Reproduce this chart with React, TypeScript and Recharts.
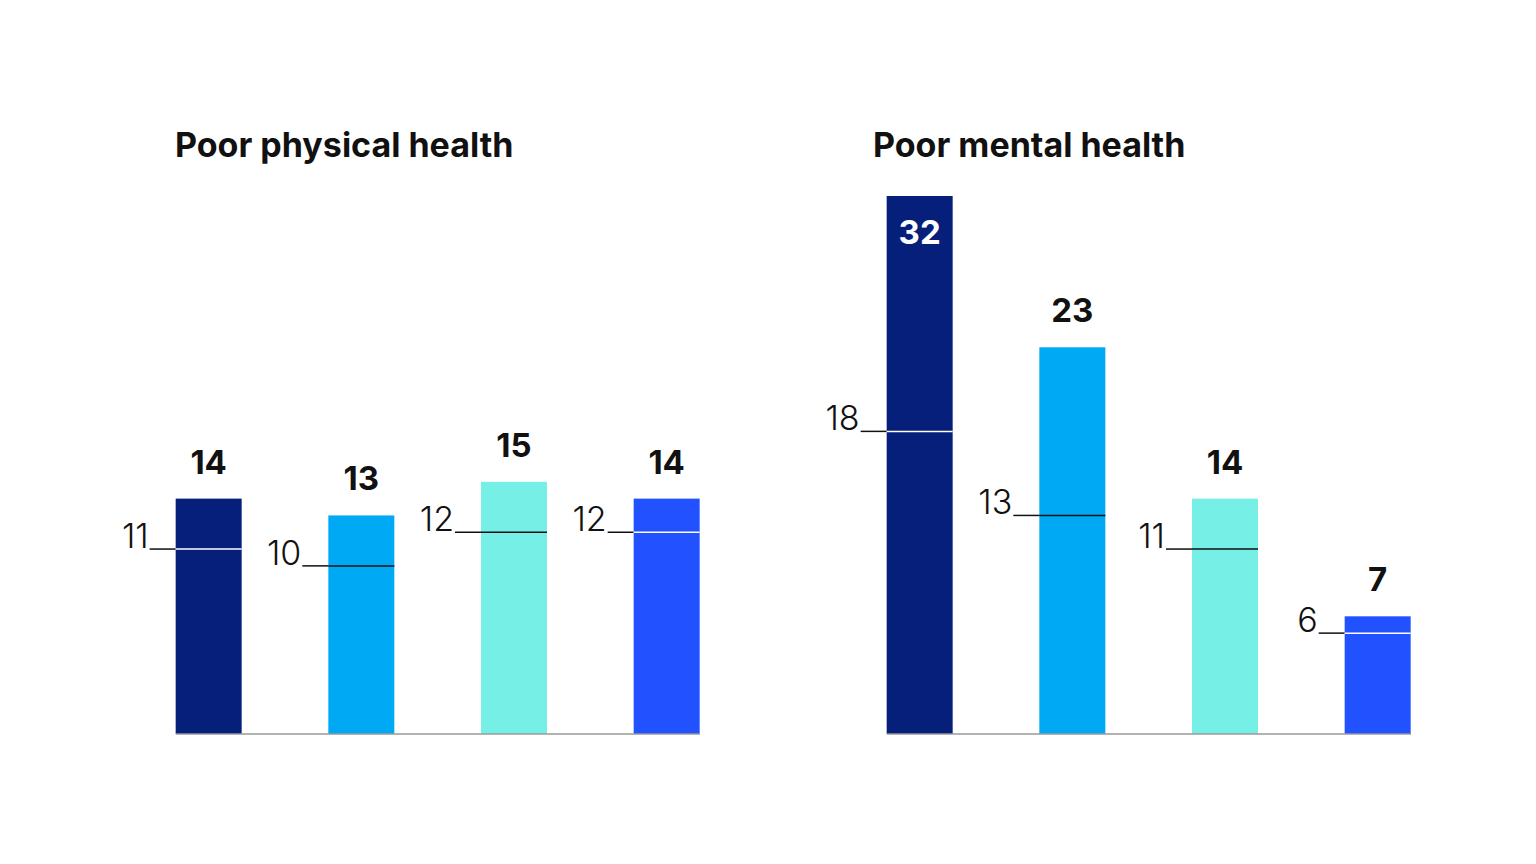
import { BarChart, Bar, XAxis, YAxis, LabelList } from "recharts";

const groups = ["A", "B", "C", "D"];
const physicalValues = [14, 13, 15, 14];
const physicalBench = [11, 10, 12, 12];
const mentalValues = [32, 23, 14, 7];
const mentalBench = [18, 13, 11, 6];

const COLORS = ["#061F7B", "#00A9F4", "#76F0E6", "#2251FF"];
const INNER_LINE = ["#FFFFFF", "#111111", "#111111", "#FFFFFF"];
const FONT = "Inter, 'Liberation Sans', Arial, sans-serif";
const Y_MAX = 32;
const PLOT_TOP = 196;

const build = (values: number[], bench: number[]) =>
  groups.map((g, i) => ({ idx: i, name: g, value: values[i], bench: bench[i] }));

const BenchBar = (props: any) => {
  const { x, y, width, height, payload, index } = props;
  const by = y + height - (payload.bench * height) / payload.value;
  return (
    <g>
      <rect x={x} y={y} width={width} height={height} fill={COLORS[index]} />
      <line x1={x - 26} x2={x} y1={by} y2={by} stroke="#111" strokeWidth={1.5} />
      <line x1={x} x2={x + width} y1={by} y2={by} stroke={INNER_LINE[index]} strokeWidth={1.5} />
      <text
        x={x - 27}
        y={by - 1}
        textAnchor="end"
        fontFamily={FONT}
        fontWeight={300}
        fontSize={34}
        fill="#111"
      >
        {payload.bench}
      </text>
    </g>
  );
};

const ValueLabel = (props: any) => {
  const { x, y, width, value } = props;
  const inside = y - 30 < PLOT_TOP;
  return (
    <text
      x={x + width / 2}
      y={inside ? y + 48 : y - 25}
      textAnchor="middle"
      fontFamily={FONT}
      fontWeight={700}
      fontSize={33}
      fill={inside ? "#fff" : "#111"}
    >
      {value}
    </text>
  );
};

const Panel = ({ data, left, marginLeft }: { data: any[]; left: number; marginLeft: number }) => (
  <div style={{ position: "absolute", left, top: 0 }}>
    <BarChart
      width={marginLeft + 524 + 40}
      height={780}
      data={data}
      margin={{ top: PLOT_TOP, right: 40, left: marginLeft, bottom: 44 }}
    >
      <XAxis
        type="number"
        dataKey="idx"
        domain={[0, 3]}
        padding={{ left: 33, right: 33 }}
        tick={false}
        tickLine={false}
        height={2}
        axisLine={{ stroke: "#9a9a9a", strokeWidth: 1.5 }}
      />
      <YAxis hide type="number" domain={[0, Y_MAX]} />
      <Bar dataKey="value" barSize={66} shape={<BenchBar />} isAnimationActive={false}>
        <LabelList dataKey="value" content={<ValueLabel />} />
      </Bar>
    </BarChart>
  </div>
);

export default function App() {
  return (
    <div style={{ position: "absolute", left: 0, top: 0, width: 1536, height: 864, background: "#fff" }}>
      <svg width={1536} height={200} style={{ position: "absolute", left: 0, top: 0 }}>
        <text x={175} y={157} fontFamily={FONT} fontWeight={700} fontSize={34} fill="#111">
          Poor physical health
        </text>
        <text x={873} y={157} fontFamily={FONT} fontWeight={700} fontSize={34} fill="#111">
          Poor mental health
        </text>
      </svg>
      <Panel data={build(physicalValues, physicalBench)} left={0} marginLeft={176} />
      <Panel data={build(mentalValues, mentalBench)} left={720} marginLeft={167} />
    </div>
  );
}
